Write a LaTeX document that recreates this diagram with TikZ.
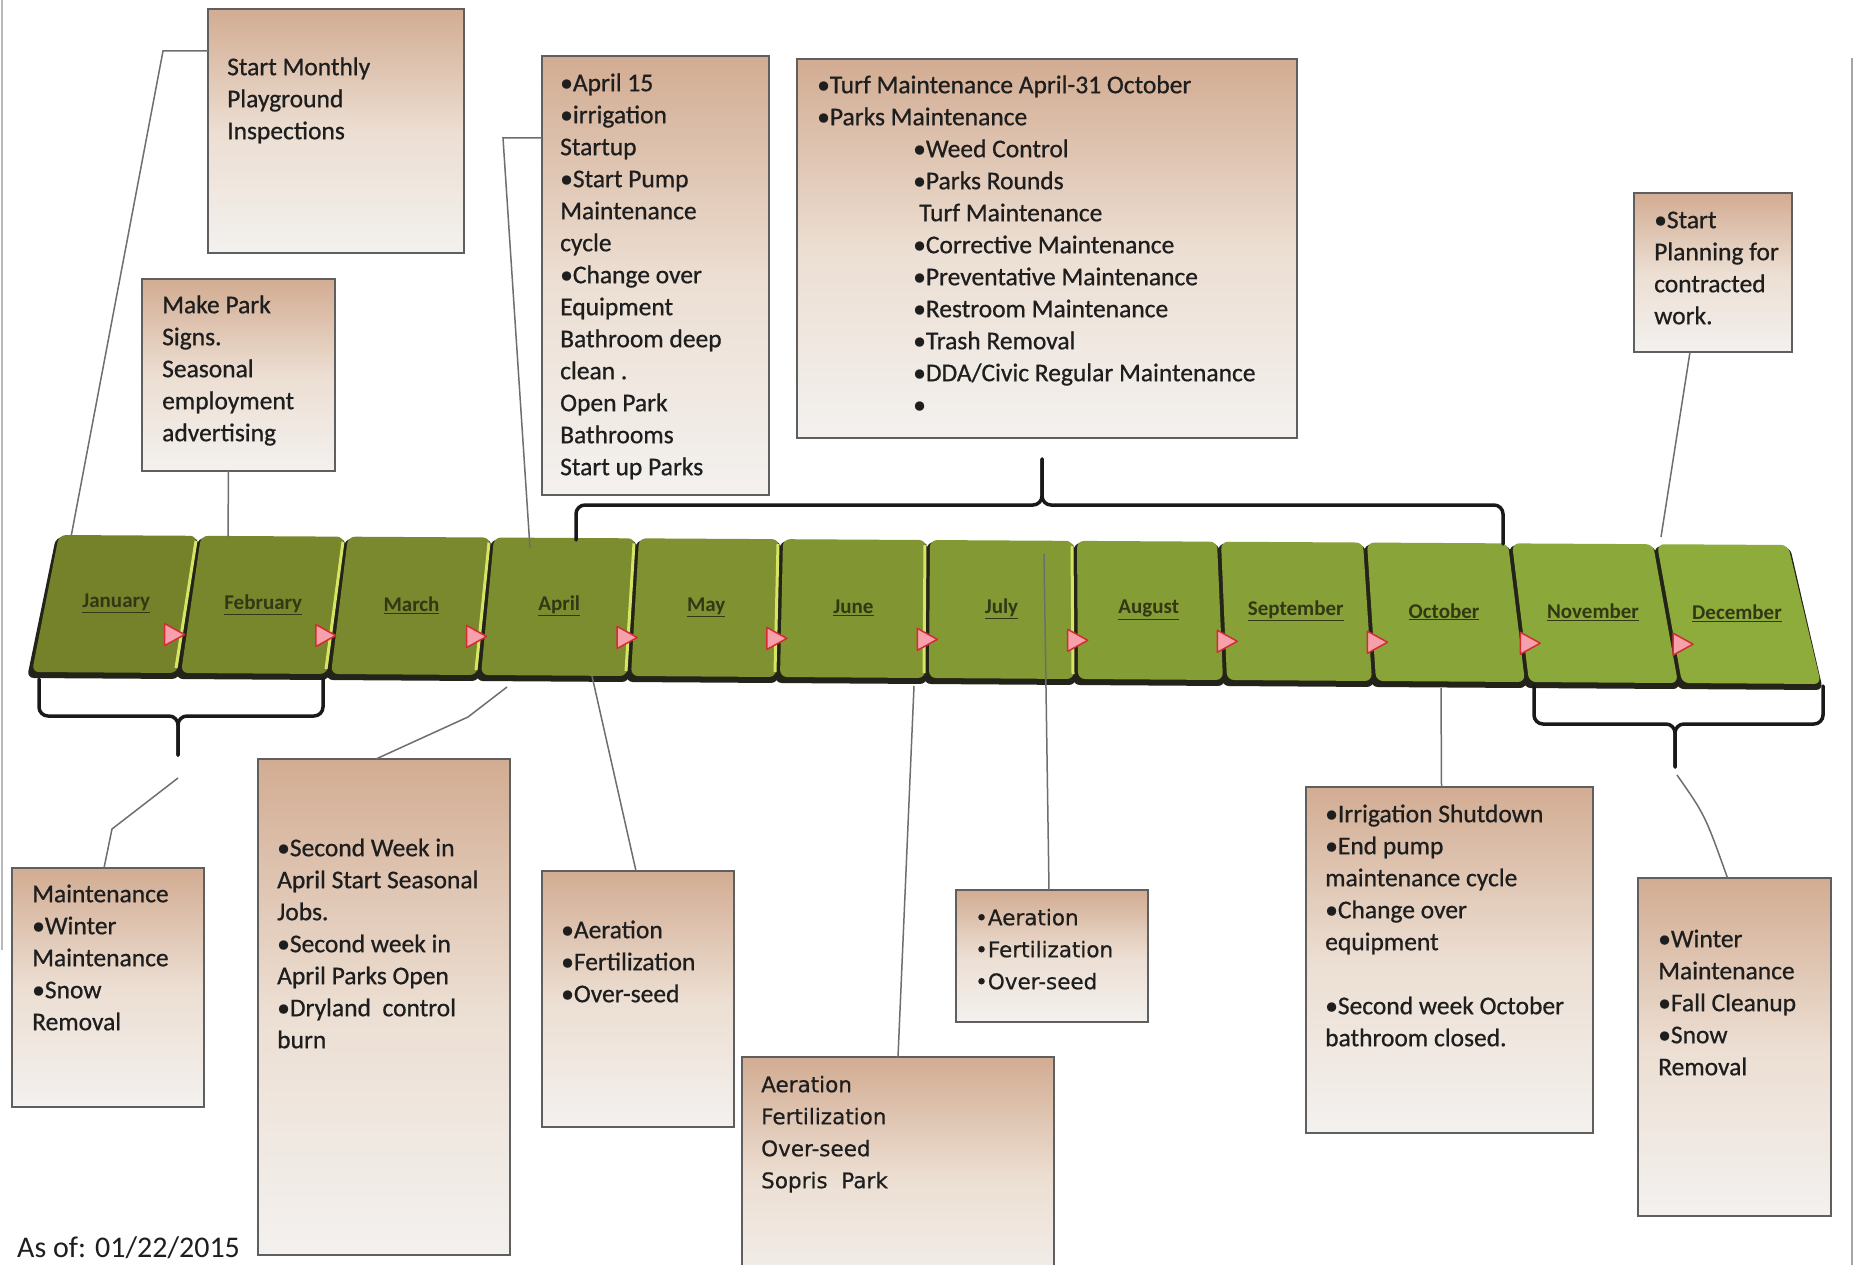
\documentclass[tikz,border=0pt]{standalone}
\usepackage{fontspec}
\setmainfont{Carlito}
\newfontfamily\boxfont[FakeBold=0.7]{Carlito}
\newfontfamily\dejavu[FakeBold=0.5]{DejaVu Sans}
\definecolor{oliveL}{RGB}{118,130,42}
\definecolor{oliveR}{RGB}{142,172,60}
\definecolor{boxtop}{RGB}{210,172,146}
\definecolor{boxmid}{RGB}{236,222,210}
\definecolor{boxbot}{RGB}{243,241,239}
\definecolor{boxline}{RGB}{95,95,95}
\definecolor{conncol}{RGB}{110,110,110}
\definecolor{txt}{RGB}{30,30,30}
\definecolor{monthtxt}{RGB}{50,56,20}
\definecolor{hlcol}{RGB}{214,230,100}
\definecolor{tripink}{RGB}{245,160,170}
\definecolor{trired}{RGB}{210,45,50}
\definecolor{shadowc}{RGB}{35,35,25}
\newcommand\firstrule{\rule{0pt}{24pt}}
\tikzset{
 box/.style={draw=boxline, line width=1.6pt, top color=boxtop, bottom color=boxbot, middle color=boxmid, inner sep=0pt, outer sep=0pt, anchor=north west},
 btext/.style={anchor=north west, inner sep=0pt, align=left, text=txt, font=\boxfont\fontsize{25.5}{32}\selectfont},
 dtext/.style={btext, font=\dejavu\fontsize{21.5}{32}\selectfont},
 connline/.style={draw=conncol, line width=1.5pt},
 bracket/.style={draw=black!90, line width=3.5pt, rounded corners=9pt, line cap=round},
 month/.style={font=\bfseries\fontsize{21}{24}\selectfont, text=monthtxt, inner sep=0pt},
}
\def\tiles{0/57/199/30/179/January/jan, 1/199/346/179/329/February/feb, 2/346/492/329/479/March/mar, 3/492/637/479/629/April/apr, 4/637/781/629/778/May/may, 5/781/928/778/927/June/jun, 6/928/1075/927/1076/July/jul, 7/1075/1219/1076/1225/August/aug, 8/1219/1365/1225/1374/September/sep, 9/1365/1510/1374/1527/October/oct, 10/1510/1655/1527/1680/November/nov, 11/1655/1790/1680/1823/December/dec}
\begin{document}
\begin{tikzpicture}[x=1pt,y=-1pt]
\useasboundingbox (0,0) rectangle (1856,1265);
\fill[white] (0,0) rectangle (1856,1265);
% scan edges
\draw[gray!70, line width=2pt] (1852,58) -- (1852,1265);
\draw[gray!55, line width=1.5pt] (2,0) -- (2,950);

% ---- boxes ----
\node[box, minimum width=256pt, minimum height=244pt] (boxA) at (208,9) {};
\node[box, minimum width=193pt, minimum height=192pt] (boxB) at (142,279) {};
\node[box, minimum width=227pt, minimum height=439pt] (boxC) at (542,56) {};
\node[box, minimum width=500pt, minimum height=379pt] (boxD) at (797,59) {};
\node[box, minimum width=158pt, minimum height=159pt] (boxE) at (1634,193) {};
\node[box, minimum width=192pt, minimum height=239pt] (boxF) at (12,868) {};
\node[box, minimum width=252pt, minimum height=496pt] (boxG) at (258,759) {};
\node[box, minimum width=192pt, minimum height=256pt] (boxH) at (542,871) {};
\node[box, minimum width=312pt, minimum height=240pt] (boxI) at (742,1057) {};
\node[box, minimum width=192pt, minimum height=132pt] (boxJ) at (956,890) {};
\node[box, minimum width=287pt, minimum height=346pt] (boxK) at (1306,787) {};
\node[box, minimum width=193pt, minimum height=338pt] (boxL) at (1638,878) {};

% ---- box texts ----
\node[btext] (tA) at (227,51) {\firstrule Start Monthly\\Playground\\Inspections};
\node[btext] (tB) at (162,289) {\firstrule Make Park\\Signs.\\Seasonal\\employment\\advertising};
\node[btext] (tC) at (560,67) {\firstrule•April 15\\•irrigation\\Startup\\•Start Pump\\Maintenance\\cycle\\•Change over\\Equipment\\Bathroom deep\\clean .\\Open Park\\Bathrooms\\Start up Parks};
\node[btext] (tD) at (817,69) {\firstrule•Turf Maintenance April-31 October\\•Parks Maintenance\\\hspace*{96pt}•Weed Control\\\hspace*{96pt}•Parks Rounds\\\hspace*{102pt}Turf Maintenance\\\hspace*{96pt}•Corrective Maintenance\\\hspace*{96pt}•Preventative Maintenance\\\hspace*{96pt}•Restroom Maintenance\\\hspace*{96pt}•Trash Removal\\\hspace*{96pt}•DDA/Civic Regular Maintenance\\\hspace*{96pt}•};
\node[btext] (tE) at (1654,204) {\firstrule•Start\\Planning for\\contracted\\work.};
\node[btext] (tF) at (32,878) {\firstrule Maintenance\\•Winter\\Maintenance\\•Snow\\Removal};
\node[btext] (tG) at (277,832) {\firstrule•Second Week in\\April Start Seasonal\\Jobs.\\•Second week in\\April Parks Open\\•Dryland\ \ control\\burn};
\node[btext] (tH) at (561,914) {\firstrule•Aeration\\•Fertilization\\•Over-seed};
\node[dtext] (tI) at (761,1068) {\firstrule Aeration\\Fertilization\\Over-seed\\Sopris\ \ Park};
\node[dtext] (tJ) at (975,901) {\firstrule•Aeration\\•Fertilization\\•Over-seed};
\node[btext] (tK) at (1325,798) {\firstrule•Irrigation Shutdown\\•End pump\\maintenance cycle\\•Change over\\equipment\\[32pt]•Second week October\\bathroom closed.};
\node[btext] (tL) at (1658,923) {\firstrule•Winter\\Maintenance\\•Fall Cleanup\\•Snow\\Removal};

\node[anchor=base west, inner sep=0pt, text=txt, font=\fontsize{30}{36}\selectfont] (asof) at (17,1257) {As of: 01/22/2015};

% ---- tiles: shadows ----
\foreach \i/\tl/\tr/\bl/\br/\nm/\id in \tiles {
  \pgfmathsetmacro\ytl{535+(\tl-57)/173.3}
  \pgfmathsetmacro\ytr{535+(\tr-57)/173.3}
  \pgfmathsetmacro\ybl{672+(\bl-30)/149.4}
  \pgfmathsetmacro\ybr{672+(\br-30)/149.4}
  \fill[shadowc, rounded corners=7pt] (\tl-1,\ytl+2) -- (\tr,\ytr+2) -- (\br,\ybr+6) -- (\bl-3,\ybl+6) -- cycle;
}
% ---- tiles ----
\foreach \i/\tl/\tr/\bl/\br/\nm/\id in \tiles {
  \pgfmathsetmacro\ytl{535+(\tl-57)/173.3}
  \pgfmathsetmacro\ytr{535+(\tr-57)/173.3}
  \pgfmathsetmacro\ybl{672+(\bl-30)/149.4}
  \pgfmathsetmacro\ybr{672+(\br-30)/149.4}
  \pgfmathtruncatemacro\pc{100*\i/11}
  \colorlet{tilec}{oliveR!\pc!oliveL}
  \fill[tilec, rounded corners=7pt] (\tl+2,\ytl) -- (\tr-2,\ytr) -- (\br-2,\ybr) -- (\bl+2,\ybl) -- cycle;
  \ifnum\i<7
    \draw[hlcol, line width=3pt] (\tr-3,\ytr+5) -- (\br-3,\ybr-5);
  \fi
  \node[month] (\id) at ({(\tl+\tr+\bl+\br)/4}, {\ytl+0.5*(\ybl-\ytl)}) {\underline{\nm}};
}
% ---- triangles ----
\foreach \i/\tl/\tr/\bl/\br/\nm/\id in \tiles {
  \ifnum\i<11
    \pgfmathsetmacro\ytr{535+(\tr-57)/173.3}
    \pgfmathsetmacro\ybr{672+(\br-30)/149.4}
    \pgfmathsetmacro\yt{\ytr+0.72*(\ybr-\ytr)}
    \pgfmathsetmacro\bx{\tr+0.72*(\br-\tr)+2*\i}
    \draw[trired, fill=tripink, line width=1.5pt, line join=round] (\bx-20,\yt-11) -- (\bx,\yt) -- (\bx-20,\yt+11) -- cycle;
  \fi
}

% ---- brackets ----
\draw[bracket] (39,679) -- (39,716) -- (178,716) -- (178,755);
\draw[bracket] (323,679) -- (323,716) -- (178,716) -- (178,755);
\draw[bracket] (576,540) -- (576,505) -- (1042,505) -- (1042,459);
\draw[bracket] (1503,544) -- (1503,505) -- (1042,505) -- (1042,459);
\draw[bracket] (1534,686) -- (1534,724) -- (1675,724) -- (1675,767);
\draw[bracket] (1823,686) -- (1823,724) -- (1675,724) -- (1675,767);

% ---- connector end points ----
\coordinate (janT) at (71,537);
\coordinate (febT) at (228,537);
\coordinate (aprT) at (530,548);
\coordinate (novT) at (1661,537);
\coordinate (bltip) at (178,778);
\coordinate (aprBL) at (507,687);
\coordinate (aprB) at (592,676);
\coordinate (junB) at (914,686);
\coordinate (julM) at (1044,554);
\coordinate (octB) at (1441,688);
\coordinate (brtip) at (1677,775);

% ---- connectors ----
\draw[connline] ([yshift=-42pt]boxA.north west) -- (163,51) -- (janT);
\draw[connline] ([xshift=-10pt]boxB.south) -- (febT);
\draw[connline] ([yshift=-82pt]boxC.north west) -- (503,138) -- (aprT);
\draw[connline] ([xshift=-23pt]boxE.south) -- (novT);
\draw[connline] (bltip) -- (112,829) -- ([xshift=-4pt]boxF.north);
\draw[connline] (aprBL) -- (468,717) -- ([xshift=-8pt]boxG.north);
\draw[connline] (aprB) -- ([xshift=-2pt]boxH.north);
\draw[connline] (junB) -- (boxI.north);
\draw[connline] (julM) -- ([xshift=-3pt]boxJ.north);
\draw[connline] (octB) -- ([xshift=-8pt]boxK.north);
\draw[connline] (brtip) .. controls (1705,815) .. ([xshift=-7pt]boxL.north);
\end{tikzpicture}
\end{document}
